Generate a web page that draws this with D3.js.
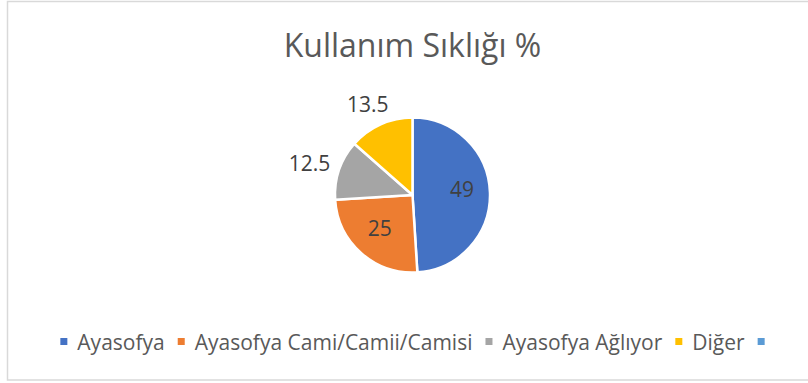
<!DOCTYPE html>
<html>
<head>
<meta charset="utf-8">
<script src="https://cdn.jsdelivr.net/npm/d3@7"></script>
<style>
  html, body { margin: 0; padding: 0; background: #fff; }
  svg { display: block; }
  text { font-family: "Open Sans", sans-serif; }
</style>
</head>
<body>
<svg id="chart" width="808" height="383"></svg>
<script>
// Kullanım sıklığı (%) by phrase
const categories = ["Ayasofya", "Ayasofya Cami/Camii/Camisi", "Ayasofya Ağlıyor", "Diğer", ""];
const values = [49, 25, 12.5, 13.5, 0];
const colors = ["#4472C4", "#ED7D31", "#A5A5A5", "#FFC000", "#5B9BD5"];
const title = "Kullanım Sıklığı %";

const W = 808, H = 383;
const cx = 412.5, cy = 195, R = 77.5;

const svg = d3.select("#chart");

// chart frame
svg.append("rect")
  .attr("x", 7.5).attr("y", 1.5)
  .attr("width", W + 10).attr("height", 378.5)
  .attr("fill", "#fff")
  .attr("stroke", "#d9d9d9").attr("stroke-width", 1.5);

// title
svg.append("text")
  .attr("x", cx).attr("y", 57)
  .attr("text-anchor", "middle")
  .attr("font-size", 32)
  .attr("fill", "#595959")
  .text(title);

const data = categories.map((c, i) => ({ name: c, value: values[i], color: colors[i] }));

const pie = d3.pie().value(d => d.value).sort(null);
const arcs = pie(data);
const arc = d3.arc().innerRadius(0).outerRadius(R);

const g = svg.append("g").attr("transform", `translate(${cx},${cy})`);

g.selectAll("path.slice")
  .data(arcs.filter(a => a.data.value > 0))
  .join("path")
  .attr("class", "slice")
  .attr("d", arc)
  .attr("fill", d => d.data.color)
  .attr("stroke", "#fff")
  .attr("stroke-width", 2.5)
  .attr("stroke-linejoin", "round");

// data labels: inside for wide slices, outside the rim for narrow ones
const labelSize = 21;
const lab = g.selectAll("text.lab")
  .data(arcs.filter(a => a.data.value > 0))
  .join("text")
  .attr("class", "lab")
  .attr("font-size", labelSize)
  .attr("fill", "#404040")
  .attr("text-anchor", "middle")
  .attr("dominant-baseline", "central")
  .text(d => d.data.value);

lab.each(function(d) {
  const a = (d.startAngle + d.endAngle) / 2;
  const s = Math.sin(a), c = -Math.cos(a);
  const span = d.endAngle - d.startAngle;
  let x, y;
  if (span > Math.PI / 3) {
    const r = R * 0.64;
    x = s * r; y = c * r - 4;
  } else {
    const w = this.getComputedTextLength();
    const h = labelSize * 0.75;
    x = s * R + s * (w / 2 + 10.5);
    y = c * R + c * (h / 2 + 14);
  }
  d3.select(this).attr("x", x).attr("y", y);
});

// legend
const legendSize = 21, sq = 7, sqGap = 10, itemGap = 13;
const legend = svg.append("g");
const items = legend.selectAll("g.item")
  .data(data)
  .join("g")
  .attr("class", "item");

items.append("rect")
  .attr("width", sq).attr("height", sq)
  .attr("y", 338)
  .attr("fill", d => d.color);

items.append("text")
  .attr("y", 350)
  .attr("font-size", legendSize)
  .attr("fill", "#595959")
  .text(d => d.name);

const widths = [];
items.each(function(d) {
  const t = d3.select(this).select("text").node();
  widths.push(d.name ? t.getComputedTextLength() : 0);
});
const total = widths.reduce((s, w) => s + sq + (w ? sqGap + w : 0), 0) + itemGap * (widths.length - 1);
let xpos = cx - total / 2;
items.each(function(d, i) {
  const sel = d3.select(this);
  sel.select("rect").attr("x", xpos);
  sel.select("text").attr("x", xpos + sq + sqGap);
  xpos += sq + (widths[i] ? sqGap + widths[i] : 0) + itemGap;
});
</script>
</body>
</html>
